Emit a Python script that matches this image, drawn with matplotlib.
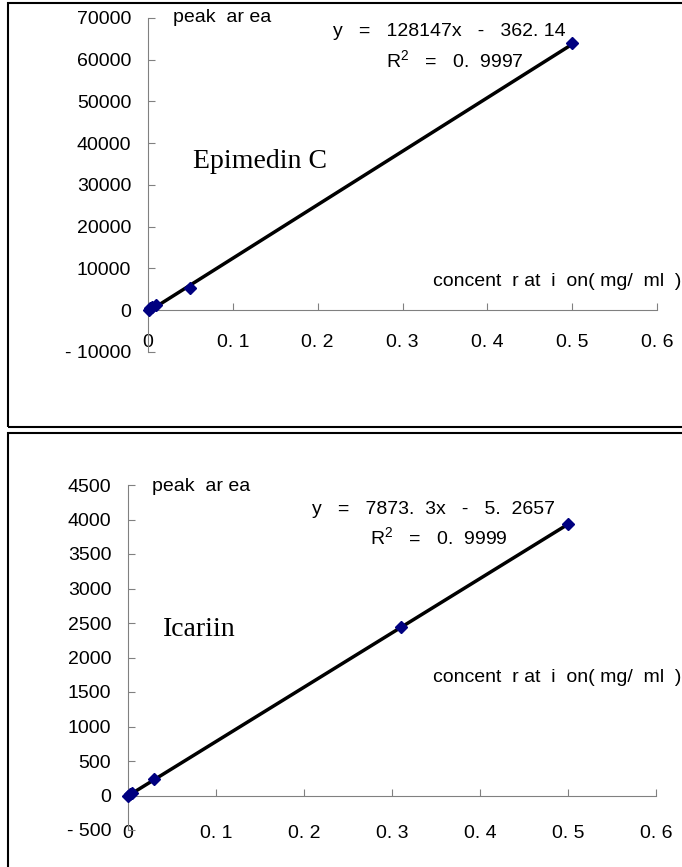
import matplotlib.pyplot as plt
from matplotlib.patches import Rectangle

# Epimedin C calibration
conc_c = [0.001, 0.0025, 0.005, 0.01, 0.05, 0.5]
area_c = [150, 450, 750, 1200, 5400, 64000]
slope_c, icpt_c = 128147, -362.14

# Icariin calibration
conc_i = [0.0005, 0.002, 0.005, 0.03, 0.31, 0.5]
area_i = [0, 15, 40, 240, 2440, 3930]
slope_i, icpt_i = 7873.3, -5.2657

x_ticks = [0, 0.1, 0.2, 0.3, 0.4, 0.5, 0.6]
x_labels = ['0', '0. 1', '0. 2', '0. 3', '0. 4', '0. 5', '0. 6']
y_ticks_c = [-10000, 0, 10000, 20000, 30000, 40000, 50000, 60000, 70000]
y_labels_c = ['- 10000', '0', '10000', '20000', '30000', '40000', '50000', '60000', '70000']
y_ticks_i = [-500, 0, 500, 1000, 1500, 2000, 2500, 3000, 3500, 4000, 4500]
y_labels_i = ['- 500', '0', '500', '1000', '1500', '2000', '2500', '3000', '3500', '4000', '4500']

W, H = 682, 867
FS = 14
plt.rcParams['font.family'] = ['Liberation Sans', 'DejaVu Sans']
fig = plt.figure(figsize=(W / 100, H / 100), dpi=100)


def px_box(x0, y0, x1, y1):
    # pixel box (top-left origin) -> figure fraction
    return [x0 / W, 1 - y1 / H, (x1 - x0) / W, (y1 - y0) / H]


# panel frames
fig.add_artist(Rectangle((8 / W, 1 - 427 / H), 1.0, (427 - 3) / H, transform=fig.transFigure,
                         fill=False, ec='black', lw=1.5))
fig.add_artist(Rectangle((8 / W, -0.1), 1.0, (1 - 433 / H) + 0.1, transform=fig.transFigure,
                         fill=False, ec='black', lw=1.5))


def panel(box, xs, ys, slope, icpt, yt, yl, ylim, xpad, name, name_xy, eq, r2, eq_xy, r2_xy, pk_xy, cx_y):
    ax = fig.add_axes(box)
    ax.set_xlim(0, 0.6)
    ax.set_ylim(*ylim)
    for s in ['top', 'right']:
        ax.spines[s].set_visible(False)
    ax.spines['bottom'].set_position(('data', 0))
    for s in ['left', 'bottom']:
        ax.spines[s].set_color('#808080')
    ax.set_xticks(x_ticks)
    ax.set_xticklabels(x_labels)
    ax.set_yticks(yt)
    ax.set_yticklabels(yl)
    ax.tick_params(axis='x', direction='in', length=5, color='#808080', pad=xpad, labelsize=FS)
    ax.tick_params(axis='y', direction='in', length=5, color='#808080', pad=12, labelsize=FS)
    ax.patch.set_visible(False)

    x0, x1 = min(xs), max(xs)
    ax.plot([x0, x1], [slope * x0 + icpt, slope * x1 + icpt], color='black', lw=2.5, zorder=2)
    ax.plot(xs, ys, 'D', color='#000080', ms=6.5, zorder=3, clip_on=False)

    fig.text(pk_xy[0] / W, 1 - pk_xy[1] / H, 'peak  ar ea', fontsize=FS, va='center')
    fig.text(eq_xy[0] / W, 1 - eq_xy[1] / H, eq, fontsize=FS, va='center')
    fig.text(r2_xy[0] / W, 1 - r2_xy[1] / H, r2, fontsize=FS, va='center')
    fig.text(681 / W, 1 - cx_y / H, 'concent  r at  i  on( mg/  ml  )', fontsize=FS,
             va='center', ha='right')
    fig.text(name_xy[0] / W, 1 - name_xy[1] / H, name, fontsize=20, va='center',
             family='Liberation Serif')
    return ax


panel(px_box(148, 18, 657, 352), conc_c, area_c, slope_c, icpt_c, y_ticks_c, y_labels_c,
      (-10000, 70000), 17, 'Epimedin C', (193, 162),
      'y   =   128147x   -   362. 14', '$\\mathregular{R^2}$   =   0.  9997', (333, 32), (386, 60),
      (173, 18), 282)

panel(px_box(128, 485, 656, 830), conc_i, area_i, slope_i, icpt_i, y_ticks_i, y_labels_i,
      (-500, 4500), 21, 'Icariin', (163, 630),
      'y   =   7873.  3x   -   5.  2657', '$\\mathregular{R^2}$   =   0.  9999', (312, 510), (370, 537),
      (152, 486), 677)

fig.savefig('out.png', dpi=100)
